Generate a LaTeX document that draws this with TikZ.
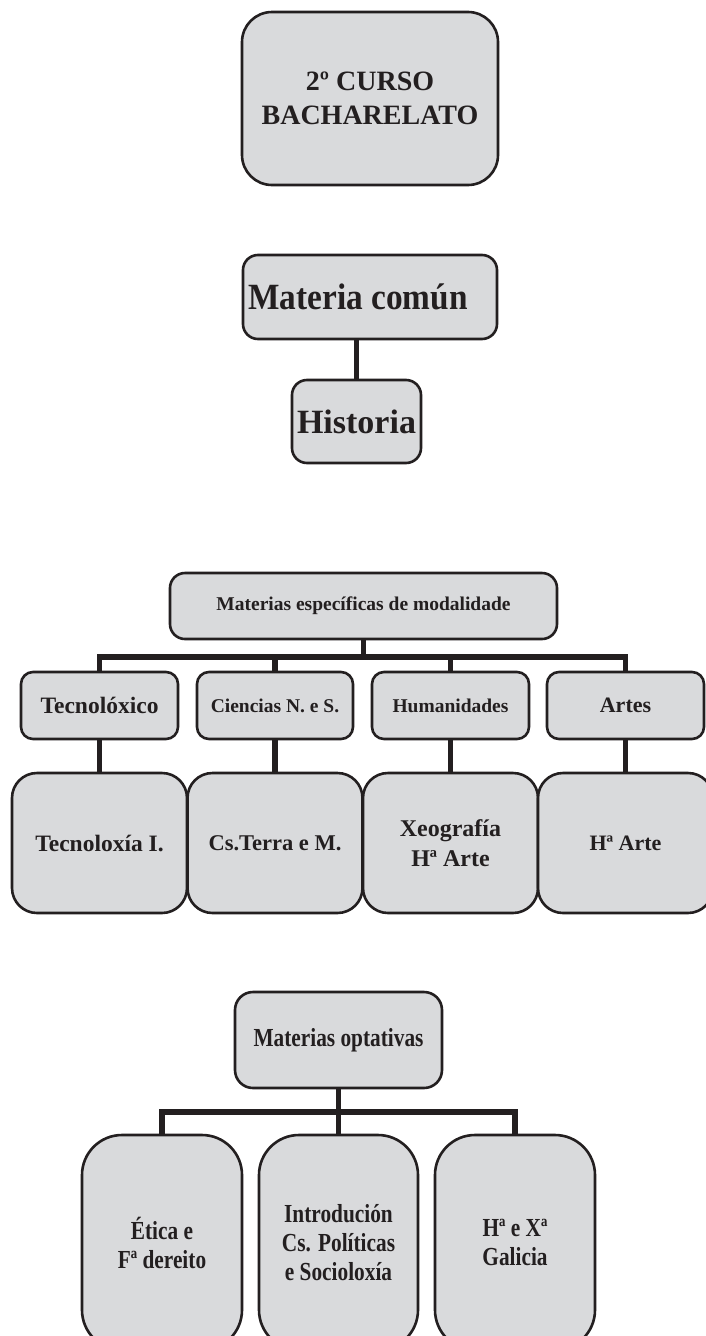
\documentclass[tikz,border=0pt]{standalone}
\usepackage{fontspec}
\setmainfont{Liberation Serif}
\newfontfamily\condA{Liberation Serif}[FakeStretch=0.82]
\newfontfamily\condB{Liberation Serif}[FakeStretch=0.9]
\definecolor{boxfill}{RGB}{217,218,220}
\definecolor{ink}{RGB}{35,31,32}
\begin{document}
\begin{tikzpicture}[x=1pt,y=-1pt,
  box/.style={draw=ink, fill=boxfill, line width=2.6pt, inner sep=0pt, align=center, text=ink},
  conn/.style={draw=ink, line width=5.5pt, line join=miter}]
\clip (0,0) rectangle (706,1336);
\fill[white] (0,0) rectangle (706,1336);

% Section 1
\node[box, minimum width=256pt, minimum height=173pt, rounded corners=30pt,
      font=\bfseries\fontsize{28}{34}\selectfont] (curso) at (370,98.5) {2º CURSO\\BACHARELATO};

% Section 2
\node[box, minimum width=254pt, minimum height=84pt, rounded corners=15pt,
      font=\condB\bfseries\fontsize{37}{40}\selectfont] (comun) at (370,297) {Materia común\hspace*{24pt}};
\node[box, minimum width=129pt, minimum height=83pt, rounded corners=15pt,
      font=\bfseries\fontsize{34}{38}\selectfont] (hist) at (356.5,421.5) {Historia};
\draw[conn] (hist.north) -- (hist.north |- comun.south);

% Section 3
\node[box, minimum width=387pt, minimum height=66pt, rounded corners=15pt,
      font=\bfseries\fontsize{19.5}{22}\selectfont] (esp) at (363.5,606) {Materias específicas de modalidade};

\node[box, minimum width=157pt, minimum height=67pt, rounded corners=12pt,
      font=\bfseries\fontsize{23.5}{26}\selectfont] (tec) at (99.5,705.5) {Tecnolóxico};
\node[box, minimum width=156pt, minimum height=67pt, rounded corners=12pt,
      font=\bfseries\fontsize{19.5}{22}\selectfont] (cie) at (275,705.5) {Ciencias N. e S.};
\node[box, minimum width=157pt, minimum height=67pt, rounded corners=12pt,
      font=\bfseries\fontsize{19.5}{22}\selectfont] (hum) at (450.5,705.5) {Humanidades};
\node[box, minimum width=157pt, minimum height=67pt, rounded corners=12pt,
      font=\bfseries\fontsize{22}{25}\selectfont] (art) at (625.5,705.5) {Artes};

\coordinate (barA) at (0,657);
\draw[conn] (tec.north) -- (tec.north |- barA) -- (art.north |- barA) -- (art.north);
\draw[conn] (esp.south) -- (esp.south |- barA);
\draw[conn] (cie.north) -- (cie.north |- barA);
\draw[conn] (hum.north) -- (hum.north |- barA);

\node[box, minimum width=175pt, minimum height=140pt, rounded corners=25pt,
      font=\bfseries\fontsize{23.5}{30}\selectfont] (tecl) at (99.5,843) {Tecnoloxía I.};
\node[box, minimum width=175pt, minimum height=140pt, rounded corners=25pt,
      font=\bfseries\fontsize{22.5}{30}\selectfont] (ciel) at (275,843) {Cs.Terra e M.};
\node[box, minimum width=175pt, minimum height=140pt, rounded corners=25pt,
      font=\bfseries\fontsize{24}{30}\selectfont] (huml) at (450.5,843) {Xeografía\\Hª Arte};
\node[box, minimum width=175pt, minimum height=140pt, rounded corners=25pt,
      font=\bfseries\fontsize{22}{30}\selectfont] (artl) at (625.5,843) {Hª Arte};

\draw[conn] (tec.south) -- (tecl.north);
\draw[conn] (cie.south) -- (ciel.north);
\draw[conn] (hum.south) -- (huml.north);
\draw[conn] (art.south) -- (artl.north);

% Section 4
\node[box, minimum width=207pt, minimum height=96pt, rounded corners=18pt,
      font=\condA\bfseries\fontsize{26}{29}\selectfont] (opt) at (338.5,1040) {Materias optativas};

\node[box, minimum width=160pt, minimum height=215pt, rounded corners=40pt,
      font=\condA\bfseries\fontsize{26}{29}\selectfont] (eti) at (162,1242.5) {Ética e\\Fª dereito};
\node[box, minimum width=159pt, minimum height=215pt, rounded corners=40pt,
      font=\condA\bfseries\fontsize{26}{29}\selectfont] (intro) at (338.5,1242.5) {Introdución\\Cs. Políticas\\e Socioloxía};
\node[box, minimum width=160pt, minimum height=215pt, rounded corners=40pt,
      font=\condA\bfseries\fontsize{26}{29}\selectfont] (hx) at (515,1242.5) {Hª e Xª\\Galicia};

\coordinate (barB) at (0,1112);
\draw[conn] (eti.north) -- (eti.north |- barB) -- (hx.north |- barB) -- (hx.north);
\draw[conn] (opt.south) -- (intro.north);
\end{tikzpicture}
\end{document}
